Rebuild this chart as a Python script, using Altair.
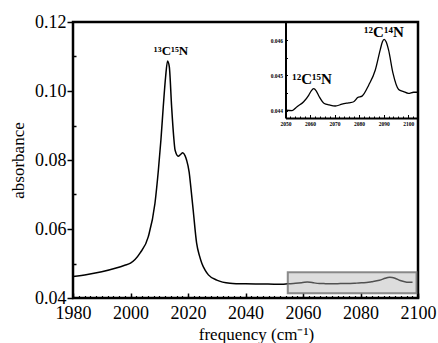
import altair as alt
import pandas as pd

# ---- data ----
freq = [1980, 1985, 1990, 1995, 1998, 2000, 2003.3, 2006.2, 2008.5, 2009.7, 2010.6, 2011.4,
        2012.2, 2012.9, 2013.5, 2014.3, 2015.0, 2015.5, 2016.6, 2017.4, 2018.2, 2019.0,
        2019.5, 2020.4, 2021.0, 2021.8, 2023.0, 2024.0, 2024.8, 2026.0, 2027.1, 2030.0,
        2034.6, 2040.0, 2045.0, 2050.0, 2052.7, 2054.7, 2057.4, 2059.5, 2060.5, 2061.5,
        2062.5, 2063.7, 2065.8, 2067.8, 2070.3, 2073.0, 2075.7, 2077.8, 2079.4, 2081.2,
        2083.9, 2086.6, 2088.6, 2089.5, 2090.2, 2091.0, 2092.0, 2093.8, 2096.1, 2098.1,
        2100.1, 2102.2, 2104.0]
absorb = [0.0462, 0.0468, 0.0476, 0.0487, 0.0495, 0.0501, 0.0530, 0.0578, 0.0674, 0.0771, 0.0860, 0.0955,
          0.1040, 0.1087, 0.1070, 0.0955, 0.0870, 0.0829, 0.0811, 0.0816, 0.0821, 0.0812,
          0.0800, 0.0765, 0.0720, 0.0655, 0.0559, 0.0522, 0.0501, 0.0480, 0.0467, 0.0452,
          0.0443, 0.0441, 0.04405, 0.04401, 0.04400, 0.04411, 0.04425, 0.04444, 0.04456, 0.04462,
          0.04456, 0.04440, 0.04420, 0.04416, 0.04413, 0.04418, 0.04422, 0.04425, 0.04437, 0.04441,
          0.04472, 0.04515, 0.04572, 0.04595, 0.04602, 0.04595, 0.04572, 0.04506, 0.04460, 0.04454,
          0.04449, 0.04452, 0.04452]

main_x_domain = [1980, 2100]
main_y_domain = [0.04, 0.12]
main_x_major = [1980, 2000, 2020, 2040, 2060, 2080, 2100]
main_x_minor = list(range(1980, 2101, 2))
main_y_major = [0.04, 0.06, 0.08, 0.10, 0.12]
main_y_minor = [0.05, 0.07, 0.09, 0.11]

inset_x_domain = [2050, 2104]
inset_y_domain = [0.04379, 0.04651]
inset_x_major = [2050, 2060, 2070, 2080, 2090, 2100]
inset_x_minor = list(range(2050, 2104, 2))
inset_y_major = [0.044, 0.045, 0.046]
inset_y_minor = [0.0445, 0.0455, 0.0465]

box_x = [2054.7, 2099.5]
box_y = [0.0414, 0.0475]

main_label = ["¹³C¹⁵N"]
main_label_x = [2014.1]
main_label_y = [0.1116]

inset_labels = ["¹²C¹⁵N", "¹²C¹⁴N"]
inset_label_x = [2060.8, 2090.1]
inset_label_y = [0.04489, 0.04624]

W, H = 345, 276
INSET_L, INSET_B = 212.5, 96
SERIF = "Liberation Serif"

df = pd.DataFrame({"f": freq, "a": absorb})
df_main = df[df.f <= 2100]
df_inset = df[df.f >= 2050]
df_box = pd.DataFrame({"x1": [box_x[0]], "x2": [box_x[1]], "y1": [box_y[0]], "y2": [box_y[1]]})
df_mlab = pd.DataFrame({"t": main_label, "x": main_label_x, "y": main_label_y})
df_ilab = pd.DataFrame({"t": inset_labels, "x": inset_label_x, "y": inset_label_y})

mx = alt.Scale(domain=main_x_domain, nice=False, zero=False)
my = alt.Scale(domain=main_y_domain, nice=False, zero=False)
ix = alt.Scale(domain=inset_x_domain, range=[INSET_L, W], nice=False, zero=False)
iy = alt.Scale(domain=inset_y_domain, range=[INSET_B, 0], nice=False, zero=False)

lab = dict(labelFont=SERIF, labelFontSize=18, labelColor="black")

# L1: main line with labelled axes
l1 = alt.Chart(df_main).mark_line(color="black", strokeWidth=1.5, interpolate="monotone", clip=True).encode(
    x=alt.X("f:Q", scale=mx, axis=alt.Axis(orient="bottom", values=main_x_major, format="d",
            ticks=False, domain=False, grid=False, labelPadding=6, labelFlush=False,
            title="frequency (cm⁻¹)", titleFont=SERIF, titleFontSize=17, titleFontWeight="normal",
            titleColor="black", titleX=183, titleY=36, titleBaseline="middle", **lab)),
    y=alt.Y("a:Q", scale=my, axis=alt.Axis(orient="left", values=main_y_major, format=".2f",
            ticks=True, tickSize=6, tickWidth=1.5, tickColor="black", domain=False, grid=False,
            labelPadding=1, labelFlush=False,
            title="absorbance", titleFont=SERIF, titleFontSize=17, titleFontWeight="normal",
            titleColor="black", titleX=-55, titleY=138, titleAngle=-90, titleAlign="center",
            titleBaseline="middle", **lab)),
)

# L2: grey zoom box, carries inward major x ticks and inward minor y ticks
l2 = alt.Chart(df_box).mark_rect(fill="#b4b4b4", fillOpacity=0.45, stroke="#707070",
                                   strokeOpacity=0.8, strokeWidth=2).encode(
    x=alt.X("x1:Q", scale=mx, axis=alt.Axis(orient="top", offset=-H, values=main_x_major,
            labels=False, domain=False, grid=False, tickSize=5, tickWidth=1.5, tickColor="black",
            title=None)),
    x2="x2:Q",
    y=alt.Y("y1:Q", scale=my, axis=alt.Axis(orient="right", offset=-W, values=main_y_minor,
            labels=False, domain=False, grid=False, tickSize=3, tickWidth=1.5, tickColor="black",
            title=None)),
    y2="y2:Q",
)

# L3: main peak label, carries minor x ticks
l3 = alt.Chart(df_mlab).mark_text(font=SERIF, fontSize=13, fontWeight="bold", color="black",
                                    baseline="middle", align="center").encode(
    x=alt.X("x:Q", scale=mx, axis=alt.Axis(orient="top", offset=-H, values=main_x_minor,
            labels=False, domain=False, grid=False, tickSize=2.5, tickWidth=1.2, tickColor="black",
            title=None)),
    y=alt.Y("y:Q", scale=my, axis=None),
    text="t:N",
)

ilab = dict(labelFont=SERIF, labelFontSize=5.5, labelFontWeight="bold", labelColor="black")

# L4: inset line with its labelled axes
l4 = alt.Chart(df_inset).mark_line(color="black", strokeWidth=1.3, interpolate="monotone").encode(
    x=alt.X("f:Q", scale=ix, axis=alt.Axis(orient="bottom", offset=-(H - INSET_B), values=inset_x_major,
            format="d", ticks=False, domain=True, domainColor="black", domainWidth=2, grid=False,
            labelPadding=3, labelFlush=False, title=None, **ilab)),
    y=alt.Y("a:Q", scale=iy, axis=alt.Axis(orient="left", offset=-INSET_L, values=inset_y_major,
            format=".3f", ticks=False, domain=True, domainColor="black", domainWidth=2, grid=False,
            labelPadding=3, labelFlush=False, title=None, **ilab)),
)

# L5: inset labels, carry inset minor ticks
l5 = alt.Chart(df_ilab).mark_text(font=SERIF, fontSize=15, fontWeight="bold", color="black",
                                    baseline="middle", align="center").encode(
    x=alt.X("x:Q", scale=ix, axis=alt.Axis(orient="top", offset=-INSET_B, values=inset_x_minor,
            labels=False, domain=False, grid=False, tickSize=2, tickWidth=1, tickColor="black",
            title=None)),
    y=alt.Y("y:Q", scale=iy, axis=alt.Axis(orient="right", offset=INSET_L - W,
            values=inset_y_major + inset_y_minor, labels=False, domain=False, grid=False,
            tickSize=2, tickWidth=1, tickColor="black", title=None)),
    text="t:N",
)

# L6: invisible carrier for inset major x ticks
l6 = alt.Chart(df_inset).mark_line(strokeOpacity=0).encode(
    x=alt.X("f:Q", scale=ix, axis=alt.Axis(orient="top", offset=-INSET_B, values=inset_x_major,
            labels=False, domain=False, grid=False, tickSize=3.5, tickWidth=1, tickColor="black",
            title=None)),
    y=alt.Y("a:Q", scale=iy, axis=None),
)

chart = alt.layer(l1, l2, l3, l4, l5, l6).resolve_scale(
    x="independent", y="independent"
).properties(
    width=W, height=H,
    autosize=alt.AutoSizeParams(type="none"),
    padding={"left": 73, "top": 22, "right": 20, "bottom": 45},
    background="white",
).configure_view(
    stroke="black", strokeWidth=2.5
).configure_axis(
    labelFont=SERIF, titleFont=SERIF
).configure_text(
    font=SERIF
)

chart.save("out.html", embed_options={"renderer": "svg", "actions": False})
